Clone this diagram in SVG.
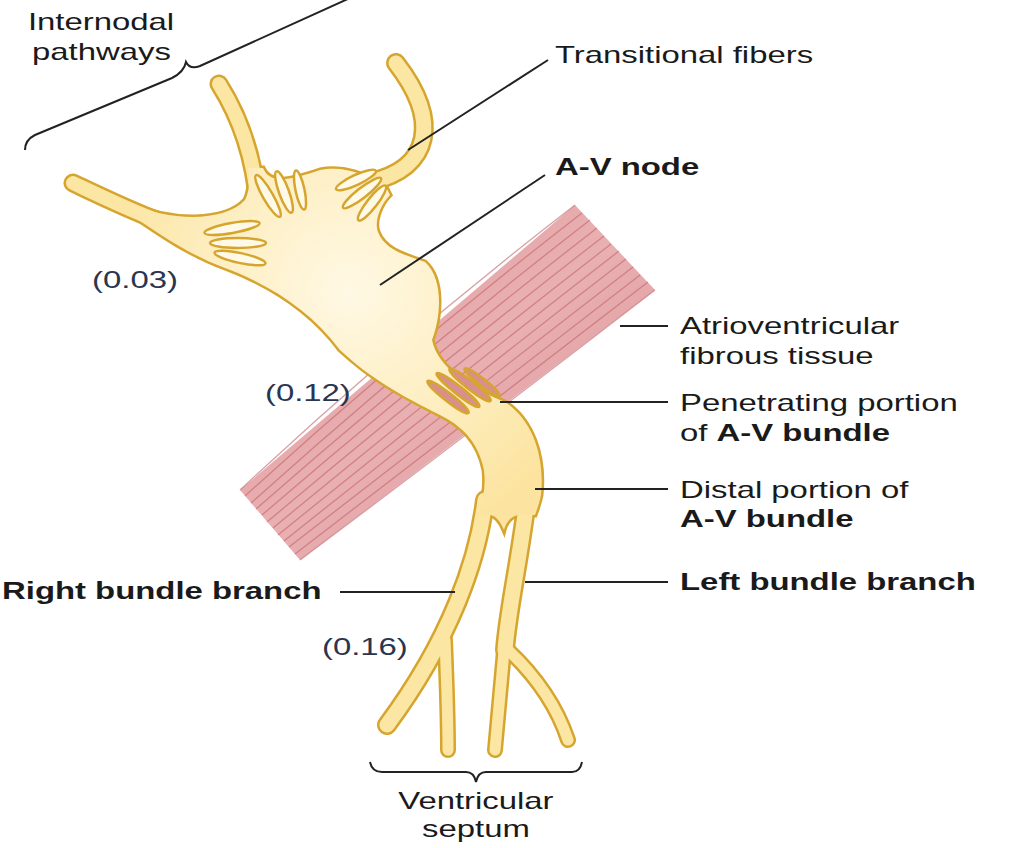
<svg xmlns="http://www.w3.org/2000/svg" width="1024" height="848" viewBox="0 0 1024 848">
<defs>
<style>
.t{font-family:"Liberation Sans",Arial,sans-serif;font-size:24px;fill:#1a1a1a}
.b{font-weight:bold}
.n{fill:#2a3550}
.ld{stroke:#222;stroke-width:2;fill:none}
.to{fill:none;stroke:#D6A52E;stroke-linecap:round}
.tf{fill:none;stroke:#FCE6A4;stroke-linecap:round}
.pet{fill:#FFF9E8;stroke:#D6A52E;stroke-width:2.5}
.slit{fill:#D98E92;stroke:#D6A52E;stroke-width:2.5}
.fib{stroke:#C2646B;stroke-width:1.3;fill:none;opacity:.6}
</style>
<radialGradient id="ng" gradientUnits="userSpaceOnUse" cx="350" cy="290" r="260">
<stop offset="0" stop-color="#FFF8E4"/><stop offset="0.6" stop-color="#FDEDBD"/><stop offset="1" stop-color="#FCE4A0"/>
</radialGradient>
<linearGradient id="mg" x1="0" y1="0" x2="1" y2="1">
<stop offset="0" stop-color="#DD9599"/><stop offset="0.5" stop-color="#E9B0B2"/><stop offset="1" stop-color="#D98C91"/>
</linearGradient>
</defs>
<rect width="1024" height="848" fill="#fff"/>
<g id="muscle">
<path d="M575,205 L655,290 L300,560 L240,490 Z" fill="url(#mg)"/>
<g class="fib">
<path d="M575,205 Q400,340 240,490"/><path d="M582,213 Q405,350 245,496"/><path d="M590,220 Q412,358 251,503"/>
<path d="M597,228 Q420,365 256,509"/><path d="M604,236 Q428,372 262,515"/><path d="M611,244 Q435,380 267,522"/>
<path d="M619,251 Q442,388 273,528"/><path d="M626,259 Q450,395 278,535"/><path d="M633,267 Q458,402 284,541"/>
<path d="M640,275 Q465,410 289,547"/><path d="M648,282 Q472,418 295,554"/><path d="M655,290 Q480,425 300,560"/>
</g>
</g>
<g id="conduction">
<g class="to">
<path d="M73,183 C130,210 180,235 240,240" stroke-width="19"/>
<path d="M219,84 C245,125 255,170 258,205" stroke-width="19"/>
<path d="M396,63 C440,120 432,168 370,182" stroke-width="20"/>
<path d="M485,500 C478,560 450,640 387,725" stroke-width="20"/>
<path d="M527,500 C518,570 508,610 505,650" stroke-width="20"/>
<path d="M445,640 C447,690 448,720 448,750" stroke-width="16"/>
<path d="M505,640 L495,750" stroke-width="16"/>
<path d="M508,650 C540,680 558,710 568,740" stroke-width="16"/>
</g>
<path d="M130,203 C170,222 225,222 245,200 C250,190 250,180 248,168 L263,168 C270,185 290,180 320,170 C345,165 365,175 385,185 L390,195 C380,205 374,222 378,232 C385,250 405,255 425,262 C445,280 440,320 432,340 C438,368 470,388 505,402 C532,420 545,455 541,495 C539,505 536,512 535,515 L520,515 C512,515 506,522 504,530 C500,520 494,515 490,515 L478,515 C483,500 486,488 484,470 C478,440 460,425 440,415 C400,395 370,378 340,350 C310,310 270,285 225,268 C190,255 160,235 130,214 Z" fill="#D6A52E" stroke="#D6A52E" stroke-width="5"/>
<g class="tf">
<path d="M73,183 C130,210 180,235 240,240" stroke-width="14"/>
<path d="M219,84 C245,125 255,170 258,205" stroke-width="14"/>
<path d="M396,63 C440,120 432,168 370,182" stroke-width="15"/>
<path d="M485,500 C478,560 450,640 387,725" stroke-width="15"/>
<path d="M527,500 C518,570 508,610 505,650" stroke-width="15"/>
<path d="M445,640 C447,690 448,720 448,750" stroke-width="11"/>
<path d="M505,640 L495,750" stroke-width="11"/>
<path d="M508,650 C540,680 558,710 568,740" stroke-width="11"/>
</g>
<path d="M130,203 C170,222 225,222 245,200 C250,190 250,180 248,168 L263,168 C270,185 290,180 320,170 C345,165 365,175 385,185 L390,195 C380,205 374,222 378,232 C385,250 405,255 425,262 C445,280 440,320 432,340 C438,368 470,388 505,402 C532,420 545,455 541,495 C539,505 536,512 535,515 L520,515 C512,515 506,522 504,530 C500,520 494,515 490,515 L478,515 C483,500 486,488 484,470 C478,440 460,425 440,415 C400,395 370,378 340,350 C310,310 270,285 225,268 C190,255 160,235 130,214 Z" fill="url(#ng)"/>
<g>
<ellipse class="pet" cx="232" cy="228" rx="28" ry="5" transform="rotate(-10 232 228)"/>
<ellipse class="pet" cx="238" cy="243" rx="28" ry="5"/>
<ellipse class="pet" cx="240" cy="258" rx="26" ry="5" transform="rotate(12 240 258)"/>
<ellipse class="pet" cx="268" cy="196" rx="5" ry="24" transform="rotate(-30 268 196)"/>
<ellipse class="pet" cx="284" cy="192" rx="5" ry="22" transform="rotate(-20 284 192)"/>
<ellipse class="pet" cx="300" cy="190" rx="4.5" ry="20" transform="rotate(-12 300 190)"/>
<ellipse class="pet" cx="356" cy="180" rx="22" ry="5" transform="rotate(-25 356 180)"/>
<ellipse class="pet" cx="362" cy="193" rx="24" ry="5" transform="rotate(-38 362 193)"/>
<ellipse class="pet" cx="372" cy="203" rx="22" ry="5" transform="rotate(-52 372 203)"/>
</g>
<g>
<ellipse class="slit" cx="448" cy="397" rx="26" ry="4" transform="rotate(38 448 397)"/>
<ellipse class="slit" cx="458" cy="390" rx="27" ry="4" transform="rotate(38 458 390)"/>
<ellipse class="slit" cx="470" cy="385" rx="26" ry="4" transform="rotate(38 470 385)"/>
<ellipse class="slit" cx="482" cy="382" rx="22" ry="3.5" transform="rotate(38 482 382)"/>
</g>
</g>
<g id="connectors" class="ld">
<path d="M25,150 Q25,140 35,135 L172,78 Q184,72 186,62 Q190,70 200,66 L350,-2"/>
<path d="M370,762 Q372,772 382,772 L466,772 Q474,772 476,782 Q478,772 486,772 L572,772 Q580,772 582,762"/>
<line x1="548" y1="60" x2="408" y2="150"/>
<line x1="545" y1="175" x2="380" y2="285"/>
<line x1="668" y1="326" x2="620" y2="326"/>
<line x1="668" y1="402" x2="500" y2="402"/>
<line x1="668" y1="489" x2="535" y2="489"/>
<line x1="668" y1="582" x2="525" y2="582"/>
<line x1="340" y1="592" x2="455" y2="592"/>
</g>
<g id="labels" transform="scale(1.37,1)">
<text class="t" x="20.4" y="30">Internodal</text>
<text class="t" x="23.4" y="60">pathways</text>
<text class="t" x="405.1" y="63">Transitional fibers</text>
<text class="t b" x="405.1" y="175">A-V node</text>
<text class="t" x="496.4" y="334">Atrioventricular</text>
<text class="t" x="496.4" y="364">fibrous tissue</text>
<text class="t" x="496.4" y="411">Penetrating portion</text>
<text class="t" x="496.4" y="441">of <tspan class="b">A-V bundle</tspan></text>
<text class="t" x="496.4" y="498">Distal portion of</text>
<text class="t b" x="496.4" y="527">A-V bundle</text>
<text class="t b" x="496.4" y="590">Left bundle branch</text>
<text class="t b" x="1.5" y="599">Right bundle branch</text>
<text class="t n" x="67.2" y="288">(0.03)</text>
<text class="t n" x="193.4" y="401">(0.12)</text>
<text class="t n" x="235" y="655">(0.16)</text>
<text class="t" x="347.4" y="809" text-anchor="middle">Ventricular</text>
<text class="t" x="347.4" y="837" text-anchor="middle">septum</text>
</g>
</svg>
